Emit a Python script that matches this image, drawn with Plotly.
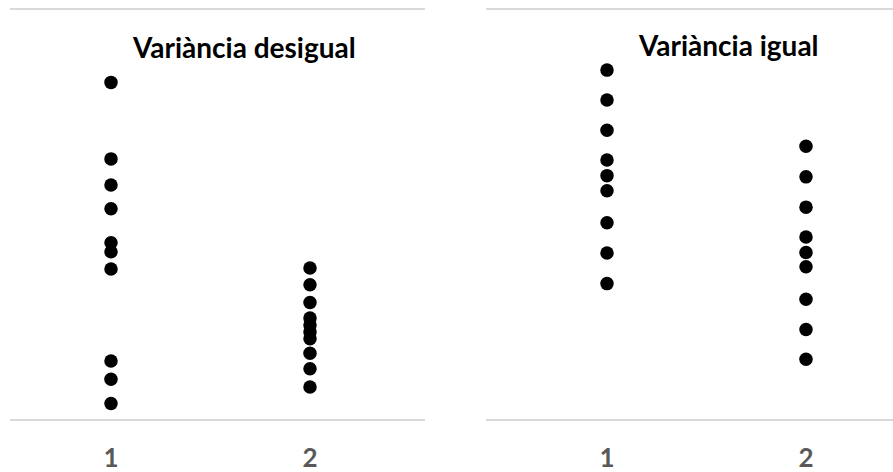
import plotly.graph_objects as go

# Data (arbitrary vertical units)
titles = ["Variància desigual", "Variància igual"]
tick_labels = ["1", "2"]

unequal_g1 = [8.23, 6.36, 5.72, 5.14, 4.31, 4.09, 3.67, 1.42, 0.97, 0.38]
unequal_g2 = [3.69, 3.28, 2.85, 2.47, 2.30, 2.13, 1.96, 1.61, 1.23, 0.78]
equal_g1 = [8.53, 7.80, 7.06, 6.33, 5.95, 5.58, 4.80, 4.06, 3.31]
equal_g2 = [6.67, 5.92, 5.18, 4.45, 4.07, 3.72, 2.93, 2.19, 1.46]

W, H = 893, 472
fig = go.Figure()

marker = dict(color="black", size=13.5, line=dict(width=0))

fig.add_trace(go.Scatter(x=[1] * len(unequal_g1), y=unequal_g1, mode="markers",
                         marker=marker, xaxis="x", yaxis="y", showlegend=False))
fig.add_trace(go.Scatter(x=[2] * len(unequal_g2), y=unequal_g2, mode="markers",
                         marker=marker, xaxis="x", yaxis="y", showlegend=False))
fig.add_trace(go.Scatter(x=[1] * len(equal_g1), y=equal_g1, mode="markers",
                         marker=marker, xaxis="x2", yaxis="y2", showlegend=False))
fig.add_trace(go.Scatter(x=[2] * len(equal_g2), y=equal_g2, mode="markers",
                         marker=marker, xaxis="x2", yaxis="y2", showlegend=False))

ydom = [(H - 419) / H, (H - 10) / H]
xcommon = dict(showline=True, mirror=True, linecolor="#d9d9d9", linewidth=2,
               showgrid=False, zeroline=False, tickmode="array",
               tickvals=[1, 2], ticktext=tick_labels, ticks="",
               tickfont=dict(family="Lato", size=26, color="#595959", weight="bold"),
               ticklabelstandoff=15, automargin=False, fixedrange=True)
ycommon = dict(range=[0, 10], showgrid=False, zeroline=False, showticklabels=False,
               ticks="", showline=False, domain=ydom, automargin=False, fixedrange=True)

fig.update_layout(
    width=W, height=H,
    margin=dict(l=0, r=0, t=0, b=0, autoexpand=False),
    paper_bgcolor="white", plot_bgcolor="white",
    xaxis=dict(domain=[10 / W, 425 / W], range=[1 - 101 / 199, 2 + 115 / 199],
               anchor="y", **xcommon),
    yaxis=dict(anchor="x", **ycommon),
    xaxis2=dict(domain=[486 / W, 1.0], range=[1 - 121 / 199, 2 + 87 / 199],
                anchor="y2", **xcommon),
    yaxis2=dict(anchor="x2", **ycommon),
    annotations=[
        dict(text="<b>" + titles[0] + "</b>", x=244 / W, y=1 - 47 / H, xref="paper", yref="paper",
             xanchor="center", yanchor="middle", showarrow=False,
             font=dict(family="Lato", size=28, color="black")),
        dict(text="<b>" + titles[1] + "</b>", x=728 / W, y=1 - 45 / H, xref="paper", yref="paper",
             xanchor="center", yanchor="middle", showarrow=False,
             font=dict(family="Lato", size=28, color="black")),
    ],
)

post = "document.documentElement.style.margin='0';document.body.style.margin='0';"
fig.write_html("out.html", config={"displayModeBar": False}, post_script=post)
